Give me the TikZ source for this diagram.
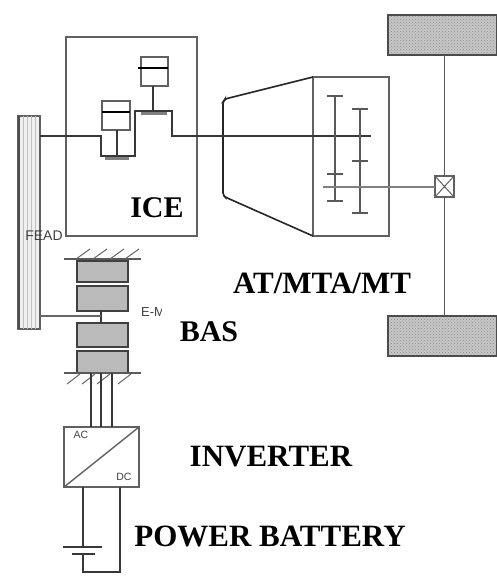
\documentclass[tikz,border=0pt]{standalone}
\usepackage{fontspec}
\setmainfont{Liberation Serif}
\setsansfont{Liberation Sans}
\usepackage{tikz}
\usetikzlibrary{patterns}
\definecolor{linegray}{gray}{0.38}
\tikzset{
  part/.style={draw=linegray,line width=1.4pt,minimum width=#1,inner sep=0pt,outer sep=0pt},
  title/.style={font=\bfseries\fontsize{31}{31}\selectfont,text=black,inner sep=0pt},
  small/.style={font=\sffamily\fontsize{10.5}{10.5}\selectfont,text=black!75,inner sep=0pt},
  wheel/.style={draw=black!70,line width=1.6pt,preaction={fill=black!22},pattern=crosshatch dots,pattern color=black!45,minimum width=109pt,minimum height=40pt,inner sep=0pt,outer sep=0pt},
  stator/.style={draw=black!75,line width=1.6pt,fill=black!27,minimum width=51pt,inner sep=0pt,outer sep=0pt},
  conn/.style={draw=black!78,line width=1.2pt},
  tick/.style={draw=black!65,line width=1.3pt},
  hatch/.style={draw=black!60,line width=1pt},
  bar/.style={draw=black!50,line width=3pt},
}
\begin{document}
\begin{tikzpicture}[x=1pt,y=-1pt]
\useasboundingbox (0,0) rectangle (497,576);
% engine
\node[part=131pt,minimum height=199pt] (ice) at (131.5,136.5) {};
\node[part=22pt,minimum height=213pt,fill=black!6] (fead) at (29,222.5) {};
\foreach \xs in {23,27,31,35}
  \draw[black!25,line width=1pt] (\xs,116) -- (\xs,329);
\draw[black!70,line width=2pt] (19,116) -- (19,329);
\node[part=28pt,minimum height=29pt] (pistA) at (116,115.5) {};
\node[part=27pt,minimum height=29pt] (pistB) at (154.5,71.5) {};
\draw[black,line width=2.5pt] (102,112) -- (130,112);
\draw[black,line width=2.5pt] (138,68) -- (168,68);
\coordinate (crankA) at (117,156);
\coordinate (crankB) at (153,111);
\draw[conn] (pistA.south -| crankA) -- (crankA);
\draw[conn] (pistB.south -| crankB) -- (crankB);
\draw[bar] (105,158) -- (129,158);
\draw[bar] (141,113) -- (167,113);
% gearbox
\node[part=76pt,minimum height=159pt] (gear) at (351,156.5) {};
\coordinate (bellA) at (223,102);
\coordinate (bellB) at (223,195);
\draw[black!85,line width=1.6pt,rounded corners=2pt] (gear.north west) -- (225,99) -- (bellA) -- (bellB) -- (225,197) -- (gear.south west);
\draw[conn] (fead.east |- 0,136) -- (101,136) -- (101,156) -- (135,156) -- (135,111) -- (172,111) -- (172,136) -- (223,136) -- (gear.west |- 0,136) -- (371,136);
\foreach \xg/\ya/\yb/\yc in {335/96/174/201,360/109/161/213} {
  \draw[tick] (\xg,\ya) -- (\xg,\yc);
  \draw[tick] (\xg-8,\ya) -- (\xg+8,\ya);
  \draw[tick] (\xg-8,\yb) -- (\xg+8,\yb);
  \draw[tick] (\xg-8,\yc) -- (\xg+8,\yc);
}
% wheels and axle
\node[wheel] (wheelA) at (442.5,35) {};
\node[wheel] (wheelB) at (442.5,336) {};
\node[part=19pt,minimum height=21pt,line width=2pt] (diff) at (444.5,186.5) {};
\draw[linegray,line width=1pt] (diff.north west) -- (diff.south east) (diff.north east) -- (diff.south west);
\draw[black!65,line width=1.6pt] (wheelA.south -| diff) -- (diff.north);
\draw[black!65,line width=1.6pt] (diff.south) -- (wheelB.north -| diff);
\coordinate (outA) at (323,187);
\draw[black!50,line width=2pt] (outA) -- (diff.west |- outA);
% machine
\node[stator,minimum height=21pt] (statA) at (102.5,271.5) {};
\node[stator,minimum height=25pt] (statB) at (102.5,298.5) {};
\node[stator,minimum height=24pt] (statC) at (102.5,335) {};
\node[stator,minimum height=22pt] (statD) at (102.5,362) {};
\draw[black!65,line width=1.4pt] (64,259) -- (141,259);
\draw[black!65,line width=1.4pt] (64,373) -- (141,373);
\foreach \xh in {76,93,110,125}
  \draw[hatch] (\xh,259) -- ++(14,-10);
\foreach \xh in {80,95,110,131}
  \draw[hatch] (\xh,374) -- ++(-13,10);
\draw[conn] (statB.south -| 101,0) -- (statC.north -| 101,0);
\draw[conn,black!60] (fead.east |- 0,316) -- (101,316);
% inverter
\node[part=75pt,minimum height=60pt] (inv) at (101.5,457) {};
\draw[linegray,line width=1.4pt] (inv.south west) -- (inv.north east);
\foreach \xw in {91,101,112}
  \draw[conn] (statD.south -| \xw,0) -- (inv.north -| \xw,0);
\coordinate (plateA) at (83,547);
\coordinate (plateB) at (83,554);
\draw[conn] (inv.south -| plateA) -- (plateA);
\draw[conn] (plateB) -- (83,572) -- (120,572) -- (inv.south -| 120,0);
\draw[conn] (63,547) -- (102,547);
\draw[conn] (72,554) -- (95,554);
% labels
\node[small,font=\sffamily\fontsize{14}{14}\selectfont] (feadT) at (44,236) {FEAD};
\node[small] (acT) at (81,435) {AC};
\node[small] (dcT) at (124,477) {DC};
\begin{scope}
\clip (135,300) rectangle (161,325);
\node[small,anchor=west,font=\sffamily\fontsize{13}{13}\selectfont] (emT) at (141,312) {E-M};
\end{scope}
\node[title,font=\bfseries\fontsize{30}{30}\selectfont] (iceT) at (157,208) {ICE};
\node[title] (gearT) at (322,283) {AT/MTA/MT};
\node[title,font=\bfseries\fontsize{30}{30}\selectfont] (basT) at (209,332) {BAS};
\node[title] (invT) at (271,457) {INVERTER};
\node[title] (batT) at (270,536) {POWER BATTERY};
\end{tikzpicture}
\end{document}
